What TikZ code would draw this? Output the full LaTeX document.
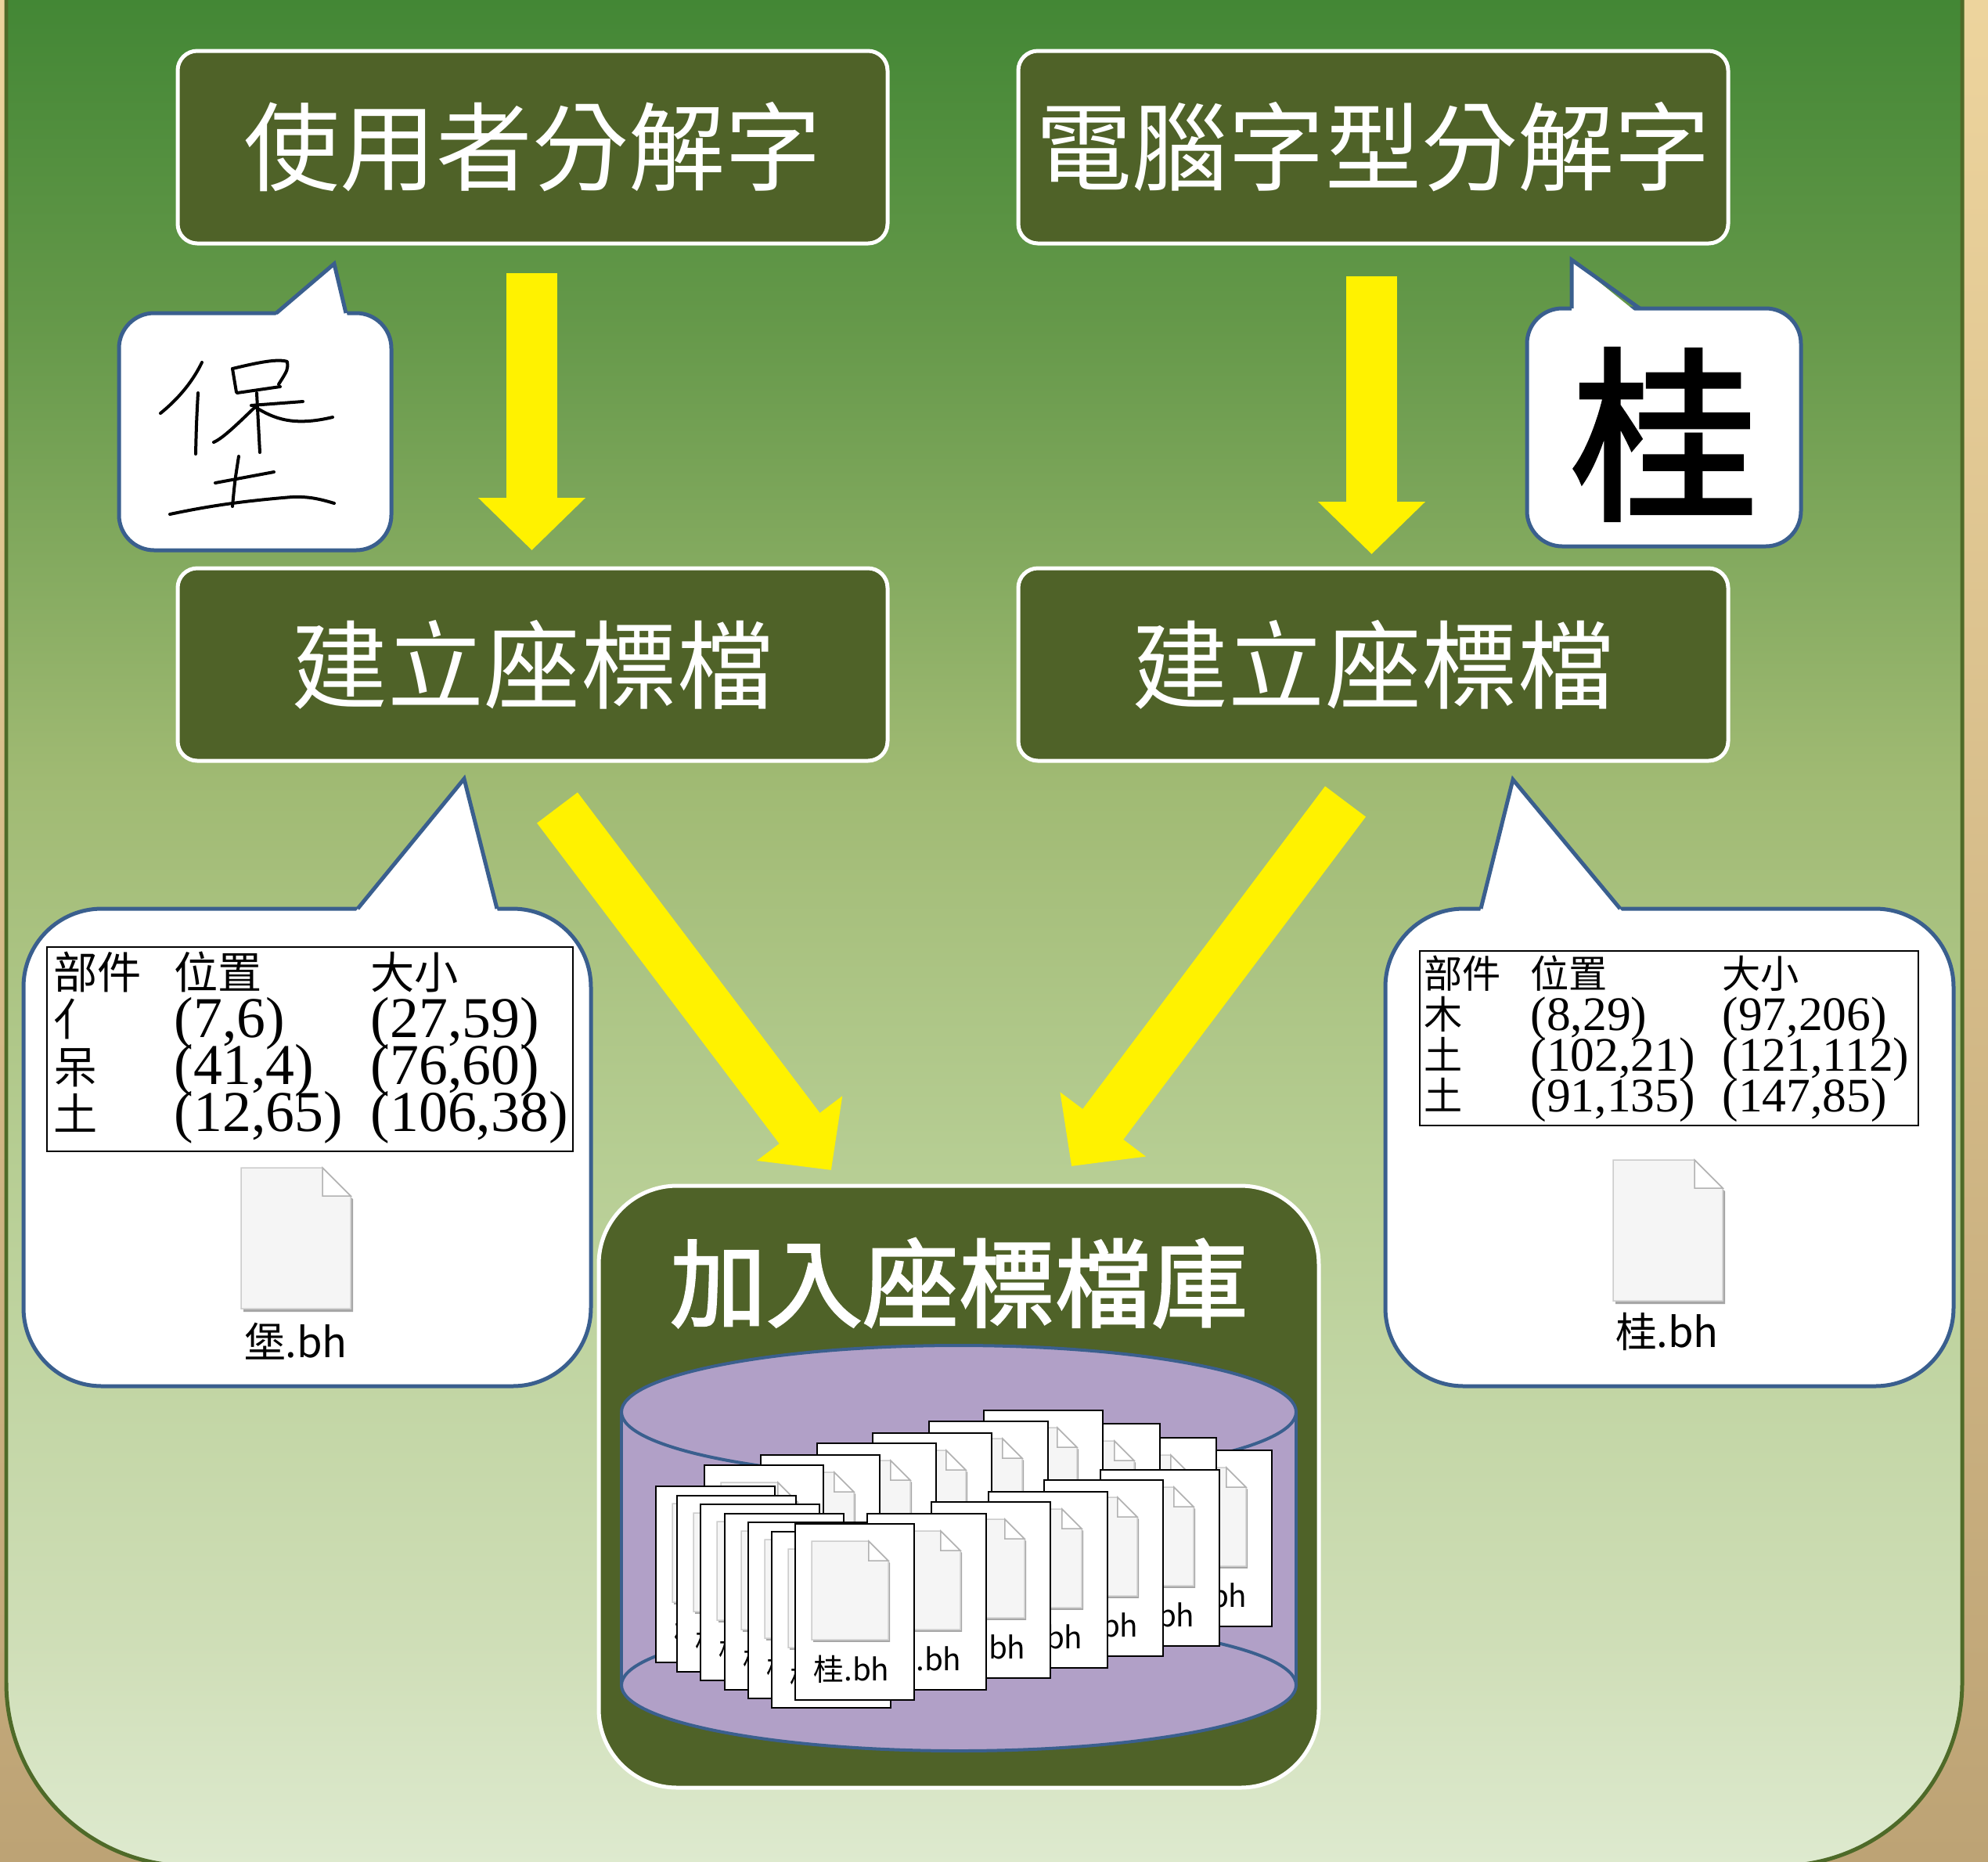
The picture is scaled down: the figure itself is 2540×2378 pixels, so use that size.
\documentclass[tikz,border=0pt]{standalone}
\usepackage{fontspec}
\newfontfamily\cjk{Noto Sans CJK TC}
\newfontfamily\cjkheavy{Noto Sans CJK TC}[FakeBold=2]
\newfontfamily\numfont{Liberation Serif}
\usetikzlibrary{arrows.meta}

\definecolor{boxgreen}{HTML}{4F6228}
\definecolor{edgeblue}{HTML}{3A5F8E}
\definecolor{frameline}{HTML}{4E6A28}
\definecolor{drumfill}{HTML}{B1A0C7}
\definecolor{woodlight}{HTML}{EDD49D}
\definecolor{wooddark}{HTML}{BDA375}
\definecolor{pf0}{RGB}{222,234,207}
\definecolor{pf1}{RGB}{207,222,183}
\definecolor{pf2}{RGB}{183,206,148}
\definecolor{pf3}{RGB}{160,186,115}
\definecolor{pf4}{RGB}{100,152,73}
\definecolor{pf5}{RGB}{67,135,53}

\pgfdeclareverticalshading{panelfade}{100bp}{color(0bp)=(pf0); color(25bp)=(pf0);
  color(30.1bp)=(pf1); color(40.9bp)=(pf2); color(49.9bp)=(pf3);
  color(60.6bp)=(pf4); color(67.8bp)=(pf5); color(100bp)=(pf5)}

\newcommand\titlefont{\cjk\fontsize{35pt}{42pt}\selectfont}
\newcommand\dbfont{\cjkheavy\fontsize{35pt}{42pt}\selectfont}
\newcommand\glyphfont{\cjkheavy\fontsize{68pt}{70pt}\selectfont}
\newcommand\lhead{\cjk\fontsize{16pt}{18pt}\selectfont}
\newcommand\lnum{\numfont\fontsize{21pt}{24pt}\selectfont}
\newcommand\rhead{\cjk\fontsize{14pt}{16pt}\selectfont}
\newcommand\rnum{\numfont\fontsize{17.5pt}{20pt}\selectfont}
\newcommand\filefont{\cjk\fontsize{15pt}{17pt}\selectfont}
\newcommand\cardfont{\cjk\fontsize{11pt}{13pt}\selectfont}

\tikzset{
  titlebox/.style={draw=white, line width=0.5mm, fill=boxgreen, rounded corners=2.5mm,
    text=white, font=\titlefont, minimum width=90.7mm, minimum height=24.6mm, inner sep=0pt},
  bubble/.style={draw=edgeblue, line width=0.5mm, fill=white, inner sep=0pt},
  tailline/.style={draw=edgeblue, line width=0.5mm},
  bigarrow/.style={draw=yellow, line width=6.5mm, -{Triangle[length=6.7mm, width=13.3mm]}},
  ink/.style={line width=0.4mm, line cap=round, line join=round},
  tabcell/.style={anchor=base west, inner sep=0pt},
  drumline/.style={draw=edgeblue, line width=0.4mm},
  % blank document icon, origin at its top left corner
  docicon/.pic={
    \fill[black!35] (3,4) -- (107,4) -- (143,40) -- (143,184) -- (3,184) -- cycle;
    \draw[black!20, line width=0.15mm, fill=black!4] (0,0) -- (104,0) -- (140,36) -- (140,180) -- (0,180) -- cycle;
    \draw[black!30, line width=0.15mm, fill=white] (104,0) -- (104,36) -- (140,36) -- cycle;
  },
  % one file card inside the drum
  filecard/.pic={
    \draw[line width=0.15mm, fill=white] (0,0) rectangle (152,225);
    \pic[scale=0.7] at (21,22) {docicon};
    \node[font=\cardfont, inner sep=0pt] (-label) at (72,186) {桂.bh};
  },
}

\begin{document}
\begin{tikzpicture}[x=0.1mm, y=-0.1mm]
\useasboundingbox (0,0) rectangle (2540,2378);

% wooden backdrop and green panel (top corners lie above the page)
\shade[top color=woodlight, middle color=woodlight, bottom color=wooddark] (0,0) rectangle (2540,2378);
\shadedraw[shading=panelfade, draw=frameline, line width=0.5mm, rounded corners=23.4mm] (8,-400) rectangle (2507,2384);

% the four step boxes
\node[titlebox] (userbox) at (680.5,188) {使用者分解字};
\node[titlebox] (fontbox) at (1754.5,188) {電腦字型分解字};
\node[titlebox] (usercoord) at (680.5,849) {建立座標檔};
\node[titlebox] (fontcoord) at (1754.5,849) {建立座標檔};

% database box
\node[titlebox, rounded corners=10mm, minimum width=92mm, minimum height=76.9mm] (dbbox) at (1225,1899.5) {};
\node[text=white, font=\dbfont] (dbtitle) at (1225,1639) {加入座標檔庫};

% yellow arrows
\coordinate (ua) at (679.5,349);   \coordinate (ub) at (679.5,703);
\coordinate (fa) at (1752.5,353);  \coordinate (fb) at (1752.5,708);
\coordinate (uc) at (712,1032);    \coordinate (ud) at (1062,1495);
\coordinate (fc) at (1719,1024);   \coordinate (fd) at (1369,1490);
\draw[bigarrow] (ua) -- (ub);
\draw[bigarrow] (fa) -- (fb);
\draw[bigarrow] (uc) -- (ud);
\draw[bigarrow] (fc) -- (fd);

% handwritten sample
\node[bubble, rounded corners=4.5mm, minimum width=34.8mm, minimum height=30.3mm] (handbubble) at (326,551.5) {};
\fill[white] (351,404) -- (427,337) -- (444,404) -- cycle;
\draw[tailline] (353,400) -- (427,337) -- (442,400);
\draw[ink] (258,463) .. controls (245,490) and (225,512) .. (205,528);
\draw[ink] (253,502) .. controls (251,540) .. (250,580);
\draw[ink] (297,471) -- (302,501);
\draw[ink] (297,471) .. controls (330,463) and (355,458) .. (367,462) .. controls (368,472) .. (356,491);
\draw[ink] (303,502) -- (358,494);
\draw[ink] (321,518) -- (387,513);
\draw[ink] (328,502) .. controls (330,540) .. (332,578);
\draw[ink] (326,520) .. controls (305,540) and (285,560) .. (273,565);
\draw[ink] (326,520) .. controls (350,535) and (375,545) .. (425,533);
\draw[ink] (305,583) .. controls (300,615) .. (297,647);
\draw[ink] (275,617) -- (350,603);
\draw[ink] (217,657) .. controls (260,648) and (300,641) .. (373,635) .. controls (395,634) and (410,638) .. (427,643);

% printed sample
\node[bubble, rounded corners=4.5mm, minimum width=35mm, minimum height=30.4mm] (glyphbubble) at (2126,546) {};
\fill[white] (2008,404) -- (2008,332) -- (2097,404) -- cycle;
\draw[tailline] (2008,394) -- (2008,332) -- (2095,394);
\node[font=\glyphfont, inner sep=0pt] (glyph) at (2126,555) {桂};

% coordinate file of the handwritten sample
\node[bubble, rounded corners=10mm, minimum width=72.5mm, minimum height=61mm] (userbubble) at (392.5,1466) {};
\fill[white] (454,1165) -- (593,995) -- (636,1165) -- cycle;
\draw[tailline] (457,1161) -- (593,995) -- (635,1161);
\node[draw, line width=0.15mm, minimum width=67.2mm, minimum height=26.1mm, inner sep=0pt] (usertable) at (396,1340.5) {};
\node[tabcell, font=\lhead] (uh1) at (68,1263) {部件};
\node[tabcell, font=\lhead] (uh2) at (222,1263) {位置};
\node[tabcell, font=\lhead] (uh3) at (473,1263) {大小};
\foreach \part/\pos/\size [count=\r] in {亻/{(7,6)}/{(27,59)}, 呆/{(41,4)}/{(76,60)}, 土/{(12,65)}/{(106,38)}} {
  \node[tabcell, font=\lhead] (upart\r) at (68,1263+60.5*\r) {\part};
  \node[tabcell, font=\lnum] (upos\r) at (222,1265+60.3*\r) {\pos};
  \node[tabcell, font=\lnum] (usize\r) at (473,1265+60.3*\r) {\size};
}
\pic (usericon) at (308,1492) {docicon};
\node[font=\filefont, inner sep=0pt] (userfile) at (378,1714) {堡.bh};

% coordinate file of the printed sample
\node[bubble, rounded corners=10mm, minimum width=72.6mm, minimum height=61mm] (fontbubble) at (2133,1466) {};
\fill[white] (1891,1165) -- (1933,996) -- (2073,1165) -- cycle;
\draw[tailline] (1892,1161) -- (1933,996) -- (2070,1161);
\node[draw, line width=0.15mm, minimum width=63.7mm, minimum height=22.3mm, inner sep=0pt] (fonttable) at (2132.5,1326.5) {};
\node[tabcell, font=\rhead] (fh1) at (1819,1262) {部件};
\node[tabcell, font=\rhead] (fh2) at (1955,1262) {位置};
\node[tabcell, font=\rhead] (fh3) at (2200,1262) {大小};
\foreach \part/\pos/\size [count=\r] in {木/{(8,29)}/{(97,206)}, 土/{(102,21)}/{(121,112)}, 土/{(91,135)}/{(147,85)}} {
  \node[tabcell, font=\rhead] (fpart\r) at (1819,1262+52.3*\r) {\part};
  \node[tabcell, font=\rnum] (fpos\r) at (1955,1264+52.3*\r) {\pos};
  \node[tabcell, font=\rnum] (fsize\r) at (2200,1264+52.3*\r) {\size};
}
\pic (fonticon) at (2061,1482) {docicon};
\node[font=\filefont, inner sep=0pt] (fontfile) at (2130,1701) {桂.bh};

% drum holding the files
\fill[drumfill] (1225,2153) ellipse [x radius=43.1mm, y radius=8.4mm];
\fill[drumfill] (794,1804) rectangle (1656,2153);
\draw[drumline] (1225,2153) ellipse [x radius=43.1mm, y radius=8.4mm];
\draw[drumline] (794,1804) -- (794,2153);
\draw[drumline] (1656,1804) -- (1656,2153);
\filldraw[drumline, fill=drumfill] (1225,1804) ellipse [x radius=43.1mm, y radius=8.5mm];

% cards, back to front
\foreach \x/\y [count=\k] in {1473/1853, 1402/1837, 1330/1819, 1257/1802, 1187/1816, 1115/1831, 1044/1844, 972/1859, 900/1872}
  \pic (back\k) at (\x,\y) {filecard};
\foreach \x/\y [count=\k] in {1406/1878, 1334/1891, 1263/1906, 1190/1919, 1108/1934}
  \pic (right\k) at (\x,\y) {filecard};
\foreach \x/\y [count=\k] in {838/1899, 865/1911, 895/1922, 926/1934, 956/1945, 986/1957, 1016/1947}
  \pic (left\k) at (\x,\y) {filecard};
\end{tikzpicture}
\end{document}
